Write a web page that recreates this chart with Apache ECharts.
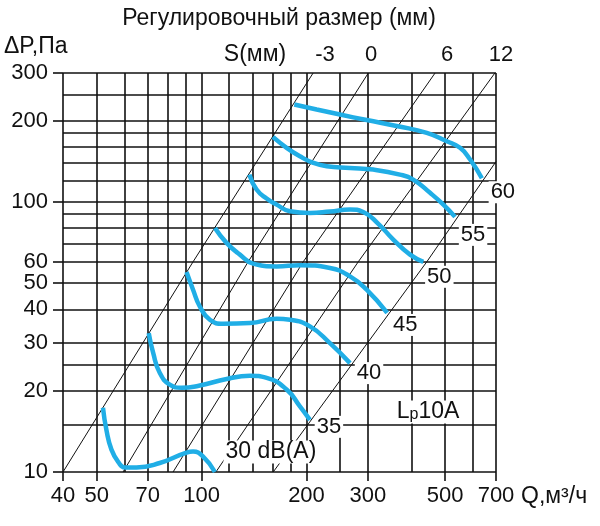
<!DOCTYPE html>
<html><head><meta charset="utf-8">
<script src="https://cdn.jsdelivr.net/npm/echarts@6/dist/echarts.min.js"></script>
<style>html,body{margin:0;padding:0;background:#fff}#c{width:600px;height:526px}</style>
</head><body><div id="c"></div>
<script>
// grid values
const xGrid = [40,50,60,70,80,90,100,120,140,160,180,200,250,300,400,500,600,700];
const yGrid = [10,15,20,25,30,40,50,60,70,80,90,100,120,140,160,180,200,250,300];
const xLabels = [40,50,70,100,200,300,500,700];
const yLabels = [10,20,30,40,50,60,100,200,300];

// noise curves (Q m3/h, dP Pa)
const curve30 = [[52.1,17.3],[53.3,14.3],[55.1,12.1],[57.6,10.9],[60.2,10.4],[65,10.4],[75.8,10.8],[90.5,11.8],[94.5,11.9],[101,11.4],[109.2,10]];
const curve35 = [[70.5,32.7],[72.6,27.6],[75.8,23.3],[81,21.05],[87.6,20.5],[98.8,20.9],[118,22.1],[137.6,22.7],[153.7,22.3],[175.4,20.2],[191.5,17.5],[204.6,15.6]];
const curve40 = [[90.5,55],[94.5,47.3],[98.8,41],[105.6,36.6],[115.3,35.4],[137.6,35.6],[164.2,36.9],[179.3,36.6],[204.6,34.6],[233.6,30],[266.7,25.3]];
const curve45 = [[109.2,80],[117.9,70.5],[128.8,63.8],[140.6,59.1],[164.2,57.7],[191.5,58.3],[233.6,56.9],[266.7,53],[297.7,47.3],[341,38.8]];
const curve50 = [[137.1,126.2],[143.8,111.1],[153.7,102.9],[164.2,97.7],[179.3,92.3],[204.6,90.9],[233.6,92.1],[266.7,93.7],[291,91.7],[321,83.1],[355,72.5],[396.6,63.8],[433,60]];
const curve55 = [[160.2,174],[175.4,158.5],[191.5,147.5],[209.2,139.5],[228.6,135.5],[266.7,133.6],[311,131.7],[371,126.2],[405,120.9],[452.7,108],[494.4,97.7],[534,88]];
const curve60 = [[184.5,229.3],[213.9,219.8],[249.6,210.5],[297.7,200.9],[366,190.5],[443,180.1],[505.6,167.7],[552,158.5],[590,143.5],[637.6,122.3]];
const curveNames = ['30 dB(A)','35','40','45','50','55','60'];

// system lines (damper setting S, mm)
const lineSm3 = [[40,10],[94.5,60],[209,300]];
const lineS0  = [[59.5,10],[136,60],[301,300]];
const lineS6  = [[82.8,10],[195.7,60],[468,300]];
const lineS12 = [[109.9,10],[281.6,60],[695,300]];
const lineEnd = [[160.5,10],[443,60],[700,141]];
const sLabels = ['-3','0','6','12'];

const FONT = '"Liberation Sans", Arial, sans-serif';
const INK = '#111111';
const CYAN = '#20AEE6';

const curves = [curve30,curve35,curve40,curve45,curve50,curve55,curve60];
const diagonals = [lineSm3,lineS0,lineS6,lineS12,lineEnd];
const labelOffsets = [[56,-20],[19,7],[19,10],[18,12],[16,15],[18,18],[21,14]];

const series = [];
series.push({
  type:'line', data:[], silent:true, z:1,
  markLine:{silent:true, symbol:['none','none'], label:{show:false}, animation:false,
    lineStyle:{color:INK,width:1.6,type:'solid',opacity:1},
    data: xGrid.map(v=>({xAxis:v})).concat(yGrid.map(v=>({yAxis:v})))}
});
diagonals.forEach(d=>series.push({type:'line',data:d,showSymbol:false,silent:true,z:3,
  lineStyle:{color:INK,width:1}}));
curves.forEach(c=>series.push({type:'line',data:c,showSymbol:false,smooth:0.5,silent:true,z:5,
  lineStyle:{color:CYAN,width:4.5,cap:'butt'}}));
series.push({
  type:'scatter', symbolSize:0, z:10, silent:true, itemStyle:{opacity:1},
  data: curves.map((c,i)=>({value:c[c.length-1], name:curveNames[i],
    label:{offset:labelOffsets[i], fontSize: i===0?23:22}})),
  label:{show:true, position:'inside', formatter:p=>p.name, color:INK, opacity:1, fontFamily:FONT, fontSize:22,
    textBorderWidth:0, backgroundColor:'#fff', padding:[0,2,0,2], align:'center', verticalAlign:'middle'}
});

const sX = [325,371,447,501];
const graphic = [
  {type:'text', x:279, y:19, style:{text:'Регулировочный размер (мм)', font:'23px '+FONT, fill:INK, textAlign:'center', textVerticalAlign:'middle'}},
  {type:'text', x:4, y:47, style:{text:'ΔP,Па', font:'23px '+FONT, fill:INK, textAlign:'left', textVerticalAlign:'middle'}},
  {type:'text', x:255, y:55, style:{text:'S(мм)', font:'23px '+FONT, fill:INK, textAlign:'center', textVerticalAlign:'middle'}},
  {type:'text', x:521, y:497, style:{text:'Q,м³/ч', font:'23px '+FONT, fill:INK, textAlign:'left', textVerticalAlign:'middle'}},
  {type:'text', x:428, y:412, z:20, style:{text:'{a|L}{b|p}{a|10A}', fill:INK, textAlign:'center', textVerticalAlign:'middle',
     backgroundColor:'#fff', padding:[0,2],
     rich:{a:{font:'23px '+FONT, fill:INK}, b:{font:'16px '+FONT, fill:INK, padding:[6,0,0,0]}}}}
].concat(sLabels.map((t,i)=>({type:'text', x:sX[i], y:55, style:{text:t, font:'22px '+FONT, fill:INK, textAlign:'center', textVerticalAlign:'middle'}})));

const chart = echarts.init(document.getElementById('c'), null, {renderer:'canvas'});
chart.setOption({
  animation:false,
  backgroundColor:'#fff',
  grid:{left:63, right:104, top:73, bottom:54, containLabel:false},
  xAxis:{type:'log', logBase:10, min:40, max:700,
    axisLine:{show:false}, splitLine:{show:false}, minorTick:{show:false},
    axisTick:{show:true, customValues:xLabels, length:9, inside:false, lineStyle:{color:INK,width:1.6}},
    axisLabel:{customValues:xLabels, margin:13, color:INK, fontFamily:FONT, fontSize:22, showMaxLabel:true, showMinLabel:true}},
  yAxis:{type:'log', logBase:10, min:10, max:300,
    axisLine:{show:false}, splitLine:{show:false},
    axisTick:{show:true, customValues:yLabels, length:10, inside:false, lineStyle:{color:INK,width:1.6}},
    axisLabel:{customValues:yLabels, margin:15, color:INK, fontFamily:FONT, fontSize:22, showMaxLabel:true, showMinLabel:true}},
  series, graphic
});
</script></body></html>
